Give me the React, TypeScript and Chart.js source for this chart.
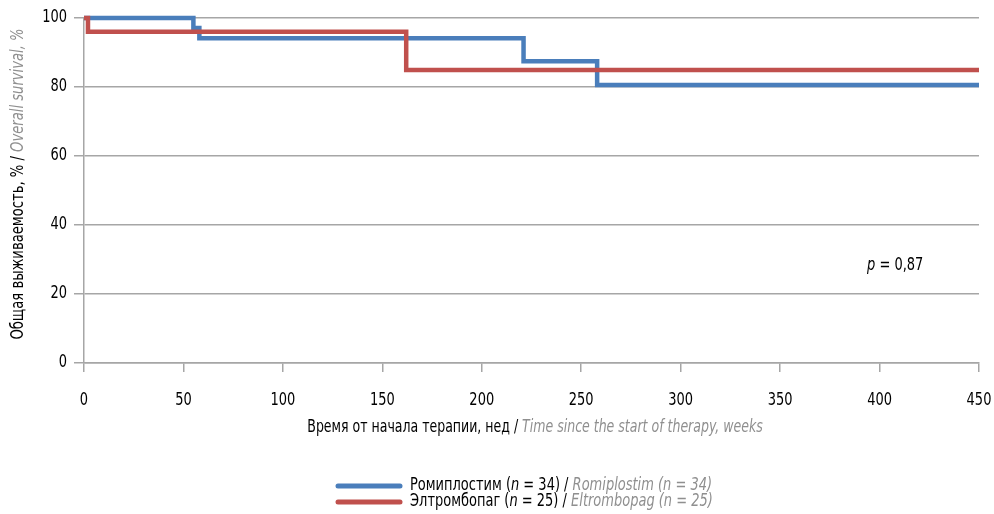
import React, { useEffect, useRef } from "react";
import { Chart, registerables } from "chart.js";

Chart.register(...registerables);

const romiTimes = [0, 55, 58, 221, 258, 450];
const romiSurv = [100, 97.1, 94.1, 87.5, 80.6, 80.6];
const eltTimes = [0, 2, 162, 450];
const eltSurv = [100, 96.0, 84.9, 84.9];

const xTicks = [0, 50, 100, 150, 200, 250, 300, 350, 400, 450];
const yTicks = [0, 20, 40, 60, 80, 100];

const BLUE = "#4a7ebb";
const RED = "#c0504d";
const GRID = "#a6a6a6";
const GRAY_TXT = "#8f8f8f";
const FONT = "'DejaVu Sans Condensed', 'DejaVu Sans', sans-serif";
const SX = 0.85;
const FS = 17;

type Seg = { t: string; italic?: boolean; color?: string };

function drawSegs(
  ctx: CanvasRenderingContext2D,
  segs: Seg[],
  x: number,
  y: number,
  align: "left" | "center" | "right",
  sx = SX,
  size = FS
) {
  const fontOf = (s: Seg) => `${s.italic ? "italic " : ""}${size}px ${FONT}`;
  let total = 0;
  for (const s of segs) {
    ctx.font = fontOf(s);
    total += ctx.measureText(s.t).width;
  }
  ctx.save();
  ctx.translate(x, y);
  ctx.scale(sx, 1);
  let cx = align === "center" ? -total / 2 : align === "right" ? -total : 0;
  ctx.textBaseline = "middle";
  ctx.textAlign = "left";
  for (const s of segs) {
    ctx.font = fontOf(s);
    ctx.fillStyle = s.color || "#000";
    ctx.fillText(s.t, cx, 0);
    cx += ctx.measureText(s.t).width;
  }
  ctx.restore();
}

const textPlugin = {
  id: "textPlugin",
  afterDraw(chart: any) {
    const ctx = chart.ctx as CanvasRenderingContext2D;
    const xs = chart.scales.x;
    const ys = chart.scales.y;
    ctx.save();
    for (const v of xTicks) {
      drawSegs(ctx, [{ t: String(v) }], xs.getPixelForValue(v), 401, "center");
    }
    for (const v of yTicks) {
      drawSegs(ctx, [{ t: String(v) }], 67, ys.getPixelForValue(v), "right");
    }
    ctx.save();
    ctx.translate(19, 184);
    ctx.rotate(-Math.PI / 2);
    drawSegs(ctx, [
      { t: "Общая выживаемость, % / " },
      { t: "Overall survival, %", italic: true, color: GRAY_TXT },
    ], 0, 0, "center", 0.86);
    ctx.restore();
    drawSegs(ctx, [
      { t: "Время от начала терапии, нед / " },
      { t: "Time since the start of therapy, weeks", italic: true, color: GRAY_TXT },
    ], 535, 428, "center", 0.82);
    drawSegs(ctx, [{ t: "p", italic: true }, { t: " = 0,87" }], 867, 266, "left");
    const items = [
      { color: BLUE, y: 486, segs: [
        { t: "Ромиплостим (" }, { t: "n", italic: true }, { t: " = 34) / " },
        { t: "Romiplostim (n = 34)", italic: true, color: GRAY_TXT },
      ] },
      { color: RED, y: 502, segs: [
        { t: "Элтромбопаг (" }, { t: "n", italic: true }, { t: " = 25) / " },
        { t: "Eltrombopag (n = 25)", italic: true, color: GRAY_TXT },
      ] },
    ];
    for (const it of items) {
      ctx.strokeStyle = it.color;
      ctx.lineWidth = 5;
      ctx.lineCap = "round";
      ctx.beginPath();
      ctx.moveTo(338, it.y);
      ctx.lineTo(400, it.y);
      ctx.stroke();
      drawSegs(ctx, it.segs, 410, it.y, "left");
    }
    ctx.restore();
  },
};

export default function App() {
  const ref = useRef<HTMLCanvasElement | null>(null);
  useEffect(() => {
    if (!ref.current) return;
    const chart = new Chart(ref.current, {
      type: "line",
      data: {
        datasets: [
          {
            label: "Элтромбопаг",
            data: eltTimes.map((t, i) => ({ x: t, y: eltSurv[i] })),
            borderColor: RED,
            borderWidth: 4.5,
            pointRadius: 0,
            stepped: "before",
            clip: false as any,
            order: 0,
            fill: false,
          },
          {
            label: "Ромиплостим",
            data: romiTimes.map((t, i) => ({ x: t, y: romiSurv[i] })),
            borderColor: BLUE,
            borderWidth: 4.5,
            pointRadius: 0,
            stepped: "before",
            clip: false as any,
            order: 1,
            fill: false,
          },
        ],
      },
      options: {
        animation: false,
        responsive: false,
        layout: { padding: { left: 0, top: 18, right: 15, bottom: 0 } },
        plugins: { legend: { display: false }, tooltip: { enabled: false } },
        scales: {
          x: {
            type: "linear",
            min: 0,
            max: 450,
            afterBuildTicks: (s: any) => { s.ticks = xTicks.map((v) => ({ value: v })); },
            afterFit: (s: any) => { s.height = 151; },
            ticks: { display: false },
            grid: { drawOnChartArea: false, drawTicks: true, tickLength: 9, color: GRID, lineWidth: 1.5 },
            border: { color: GRID, width: 1.5 },
          },
          y: {
            min: 0,
            max: 100,
            afterBuildTicks: (s: any) => { s.ticks = yTicks.map((v) => ({ value: v })); },
            afterFit: (s: any) => { s.width = 84; },
            ticks: { display: false },
            grid: { color: GRID, lineWidth: 1.5, tickLength: 10 },
            border: { color: GRID, width: 1.5 },
          },
        },
      },
      plugins: [textPlugin],
    } as any);
    return () => chart.destroy();
  }, []);
  return (
    <div style={{ position: "absolute", left: 0, top: 0, width: 994, height: 514, background: "#fff" }}>
      <canvas ref={ref} width={994} height={514} style={{ display: "block" }} />
    </div>
  );
}
